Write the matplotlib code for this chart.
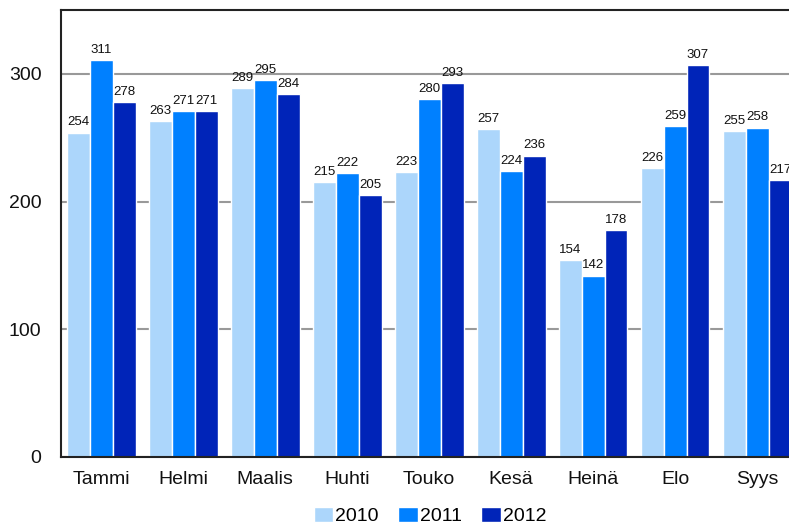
import matplotlib.pyplot as plt
import numpy as np

# Kuukaudet ja arvot
kuukaudet = ["Tammi", "Helmi", "Maalis", "Huhti", "Touko", "Kesä", "Heinä", "Elo", "Syys"]
vuodet = ["2010", "2011", "2012"]
arvot_2010 = [254, 263, 289, 215, 223, 257, 154, 226, 255]
arvot_2011 = [311, 271, 295, 222, 280, 224, 142, 259, 258]
arvot_2012 = [278, 271, 284, 205, 293, 236, 178, 307, 217]
varit = ["#acd6fb", "#0080ff", "#0024b8"]

plt.rcParams["font.family"] = ["Liberation Sans", "DejaVu Sans"]

fig = plt.figure(figsize=(7.89, 5.28), dpi=100)
ax = fig.add_axes([0.0773, 0.1345, 0.9227, 0.8465])

x = np.arange(len(kuukaudet))
leveys = 0.28
sarjat = [arvot_2010, arvot_2011, arvot_2012]
for i, (arvot, vuosi, vari) in enumerate(zip(sarjat, vuodet, varit)):
    palkit = ax.bar(x + (i - 1) * leveys, arvot, leveys, color=vari,
                    edgecolor="white", linewidth=1, label=vuosi, zorder=3)
    ax.bar_label(palkit, padding=3, fontsize=9.5, color="#111111")

ax.set_xlim(-0.49, 8.39)
ax.set_ylim(0, 350)
ax.set_yticks([0, 100, 200, 300])
ax.set_xticks(x)
ax.set_xticklabels(kuukaudet)
ax.tick_params(axis="both", length=0, labelsize=14, colors="#111111")
ax.tick_params(axis="x", pad=10)
ax.tick_params(axis="y", pad=14)
ax.grid(axis="y", color="#999999", linewidth=1.5, zorder=0)

for s in ["left", "top", "bottom"]:
    ax.spines[s].set_color("#222222")
    ax.spines[s].set_linewidth(1.5)
    ax.spines[s].set_zorder(5)
ax.spines["right"].set_visible(False)

fig.legend(loc="center", bbox_to_anchor=(0.545, 0.022), ncol=3, frameon=False,
           fontsize=14, handlelength=1.0, handleheight=0.8, handletextpad=0.1,
           columnspacing=1.0, borderpad=0)

fig.savefig("out.png", dpi=100)
